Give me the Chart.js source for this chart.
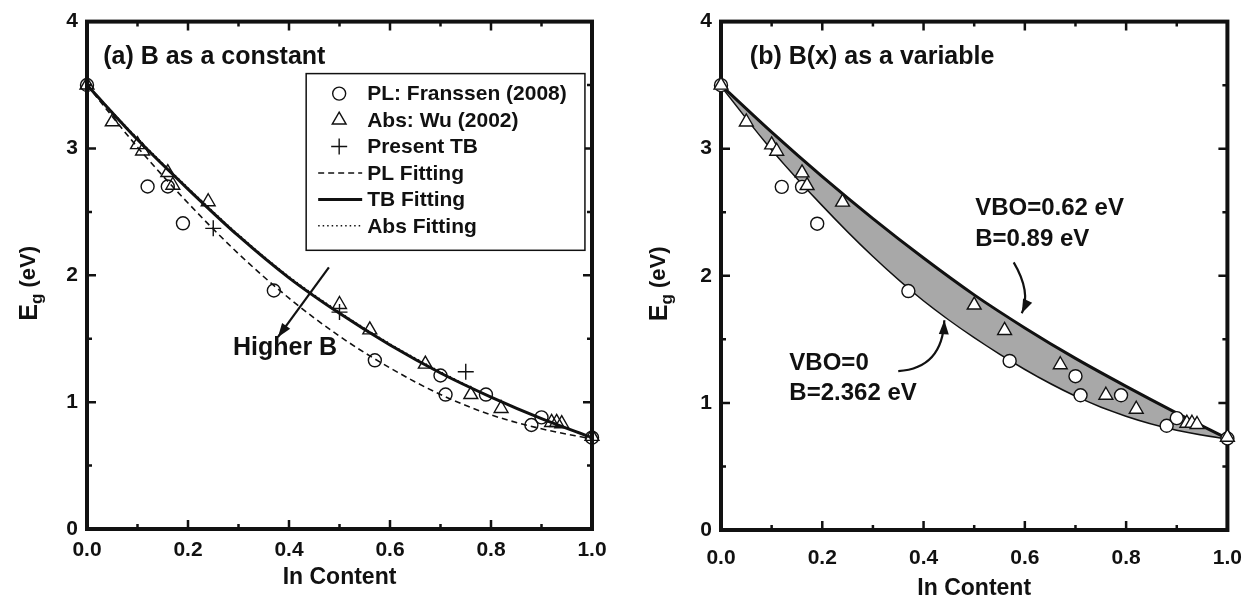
<!DOCTYPE html>
<html>
<head>
<meta charset="UTF-8">
<title>Eg vs In content</title>
<script src="https://cdn.jsdelivr.net/npm/chart.js"></script>
<style>
  body { margin: 0; background: #fff; }
  .panel { position: absolute; top: 0; width: 629px; height: 607px; }
</style>
</head>
<body>
<div class="panel" style="left:0"><canvas id="chartA"></canvas></div>
<div class="panel" style="left:629px"><canvas id="chartB"></canvas></div>

<script>
// ---- data ----
const inContent = [0, 0.1, 0.2, 0.3, 0.4, 0.5, 0.6, 0.7, 0.8, 0.9, 1.0];

// (a) fitted curves
const plFit  = [3.50, 3.01, 2.57, 2.17, 1.82, 1.52, 1.27, 1.06, 0.90, 0.79, 0.71];
const tbFit  = [3.50, 3.07, 2.68, 2.31, 1.98, 1.70, 1.45, 1.23, 1.04, 0.87, 0.72];
const absFit = [3.50, 3.08, 2.69, 2.32, 1.99, 1.71, 1.46, 1.24, 1.04, 0.87, 0.72];

// (b) band limits
const vboHigh = [3.50, 3.13, 2.78, 2.45, 2.14, 1.85, 1.59, 1.35, 1.13, 0.92, 0.72]; // VBO=0.62, B=0.89
const vboZero = [3.50, 3.00, 2.56, 2.16, 1.81, 1.52, 1.27, 1.06, 0.90, 0.79, 0.72]; // VBO=0, B=2.362

// measurements
const plX  = [0.00, 0.12, 0.16, 0.19, 0.37, 0.57, 0.70, 0.71, 0.79, 0.88, 0.90, 1.00];
const plY  = [3.50, 2.70, 2.70, 2.41, 1.88, 1.33, 1.21, 1.06, 1.06, 0.82, 0.88, 0.72];
const absX = [0.00, 0.05, 0.10, 0.11, 0.16, 0.17, 0.24, 0.50, 0.56, 0.67, 0.76, 0.82, 0.92, 0.93, 0.94, 1.00];
const absY = [3.50, 3.21, 3.03, 2.98, 2.81, 2.71, 2.58, 1.77, 1.57, 1.30, 1.06, 0.95, 0.84, 0.84, 0.83, 0.73];
const tbX  = [0.25, 0.50, 0.75];
const tbY  = [2.37, 1.71, 1.24];

const xTicks = [0, 0.2, 0.4, 0.6, 0.8, 1.0];
const yTicks = [0, 1, 2, 3, 4];

// ---- helpers ----
const FONT = '"Liberation Sans", Arial, Helvetica, sans-serif';
const INK = '#111';
const pts = (xs, ys) => xs.map((x, i) => ({ x: x, y: ys[i] }));

function curve(label, ys, extra) {
  return Object.assign({
    type: 'line', label: label, data: pts(inContent, ys),
    borderColor: INK, borderWidth: 3, pointRadius: 0,
    cubicInterpolationMode: 'monotone', fill: false, order: 3
  }, extra);
}
function marks(label, xs, ys, style, radius, bg) {
  return {
    type: 'scatter', label: label, data: pts(xs, ys),
    pointStyle: style, pointRadius: radius, pointHoverRadius: radius,
    pointBorderWidth: 1.4, pointBorderColor: INK,
    pointBackgroundColor: bg, clip: false, order: 1
  };
}

function scales(xPad, yWidth, xHeight) {
  return {
    x: {
      type: 'linear', min: 0, max: 1,
      afterBuildTicks: s => { s.ticks = xTicks.map(v => ({ value: v })); },
      afterFit: s => { s.height = xHeight; },
      ticks: { color: INK, font: { family: FONT, size: 21, weight: 'bold' }, padding: xPad,
               autoSkip: false, maxRotation: 0, callback: v => v.toFixed(1) },
      grid: { display: false, drawTicks: false }, border: { display: false }
    },
    y: {
      type: 'linear', min: 0, max: 4,
      afterBuildTicks: s => { s.ticks = yTicks.map(v => ({ value: v })); },
      afterFit: s => { s.width = yWidth; },
      ticks: { color: INK, font: { family: FONT, size: 21, weight: 'bold' }, padding: 9 },
      grid: { display: false, drawTicks: false }, border: { display: false }
    }
  };
}

// frame with inward ticks on all four sides
const framePlugin = {
  id: 'frame',
  beforeDatasetsDraw(chart) {
    const { ctx, chartArea: a, scales: { x, y } } = chart;
    ctx.save();
    ctx.strokeStyle = INK;
    ctx.lineWidth = 2.5;
    for (let i = 0; i <= 10; i++) {
      const px = x.getPixelForValue(i / 10), len = i % 2 ? 5 : 9;
      ctx.beginPath();
      ctx.moveTo(px, a.bottom); ctx.lineTo(px, a.bottom - len);
      ctx.moveTo(px, a.top); ctx.lineTo(px, a.top + len);
      ctx.stroke();
    }
    for (let i = 0; i <= 8; i++) {
      const py = y.getPixelForValue(i / 2), len = i % 2 ? 5 : 9;
      ctx.beginPath();
      ctx.moveTo(a.left, py); ctx.lineTo(a.left + len, py);
      ctx.moveTo(a.right, py); ctx.lineTo(a.right - len, py);
      ctx.stroke();
    }
    ctx.lineWidth = 4;
    ctx.lineJoin = 'miter';
    ctx.strokeRect(a.left, a.top, a.right - a.left, a.bottom - a.top);
    ctx.restore();
  }
};

function axisTitles(chart, xTitleY, yTitleX) {
  const { ctx, chartArea: a } = chart;
  ctx.save();
  ctx.fillStyle = INK;
  ctx.textBaseline = 'middle';
  ctx.textAlign = 'center';
  ctx.font = 'bold 23px ' + FONT;
  ctx.fillText('In Content', (a.left + a.right) / 2, xTitleY);
  // E_g (eV), rotated
  ctx.translate(yTitleX, (a.top + a.bottom) / 2 + 8);
  ctx.rotate(-Math.PI / 2);
  ctx.textAlign = 'left';
  ctx.font = 'bold 25px ' + FONT;
  const wE = ctx.measureText('E').width;
  ctx.font = 'bold 17px ' + FONT;
  const wg = ctx.measureText('g').width;
  ctx.font = 'bold 22px ' + FONT;
  const wr = ctx.measureText(' (eV)').width;
  let x0 = -(wE + wg + wr) / 2;
  ctx.font = 'bold 25px ' + FONT;
  ctx.fillText('E', x0, 0);
  ctx.font = 'bold 17px ' + FONT;
  ctx.fillText('g', x0 + wE, 7);
  ctx.font = 'bold 22px ' + FONT;
  ctx.fillText(' (eV)', x0 + wE + wg, -1);
  ctx.restore();
}

function label(chart, text, xv, yv, size) {
  const { ctx, scales: { x, y } } = chart;
  ctx.save();
  ctx.fillStyle = INK;
  ctx.font = 'bold ' + size + 'px ' + FONT;
  ctx.textBaseline = 'middle';
  ctx.textAlign = 'left';
  ctx.fillText(text, x.getPixelForValue(xv), y.getPixelForValue(yv));
  ctx.restore();
}

function arrowHead(ctx, tip, from) {
  const ang = Math.atan2(tip.y - from.y, tip.x - from.x);
  const L = 14, W = 5;
  ctx.beginPath();
  ctx.moveTo(tip.x, tip.y);
  ctx.lineTo(tip.x - L * Math.cos(ang) + W * Math.sin(ang), tip.y - L * Math.sin(ang) - W * Math.cos(ang));
  ctx.lineTo(tip.x - L * Math.cos(ang) - W * Math.sin(ang), tip.y - L * Math.sin(ang) + W * Math.cos(ang));
  ctx.closePath();
  ctx.fill();
}

function arrow(chart, p0, c, p1) {
  const { ctx, scales: { x, y } } = chart;
  const P = p => ({ x: x.getPixelForValue(p[0]), y: y.getPixelForValue(p[1]) });
  const a = P(p0), b = P(p1), k = c ? P(c) : a;
  ctx.save();
  ctx.strokeStyle = INK; ctx.fillStyle = INK; ctx.lineWidth = 2.2;
  ctx.beginPath();
  ctx.moveTo(a.x, a.y);
  if (c) ctx.quadraticCurveTo(k.x, k.y, b.x, b.y); else ctx.lineTo(b.x, b.y);
  ctx.stroke();
  arrowHead(ctx, b, k);
  ctx.restore();
}

// ---- panel (a) ----
const chartA = new Chart(document.getElementById('chartA'), {
  data: {
    datasets: [
      marks('PL: Franssen (2008)', plX, plY, 'circle', 6.5, 'rgba(0,0,0,0)'),
      marks('Abs: Wu (2002)', absX, absY, 'triangle', 8, 'rgba(0,0,0,0)'),
      marks('Present TB', tbX, tbY, 'cross', 8, 'rgba(0,0,0,0)'),
      curve('PL Fitting', plFit, { borderWidth: 1.6, borderDash: [6, 4] }),
      curve('TB Fitting', tbFit, { borderWidth: 3, order: 2 }),
      curve('Abs Fitting', absFit, { borderWidth: 1.5, borderDash: [1.5, 3], order: 4 })
    ]
  },
  options: {
    responsive: true, maintainAspectRatio: false, animation: false,
    layout: { padding: { top: 21, right: 37, left: 0, bottom: 0 } },
    plugins: { legend: { display: false }, tooltip: { enabled: false } },
    scales: scales(9, 87, 78)
  },
  plugins: [framePlugin, {
    id: 'decorA',
    afterDraw(chart) {
      const { ctx, scales: { x, y } } = chart;
      axisTitles(chart, 578, 30);
      label(chart, '(a) B as a constant', 0.032, 3.72, 25);
      arrow(chart, [0.479, 2.063], null, [0.378, 1.512]);
      label(chart, 'Higher B', 0.289, 1.425, 25);

      // legend box
      const bx0 = x.getPixelForValue(0.434), bx1 = x.getPixelForValue(0.986);
      const by0 = y.getPixelForValue(3.59), by1 = y.getPixelForValue(2.197);
      ctx.save();
      ctx.strokeStyle = INK; ctx.lineWidth = 1.5;
      ctx.fillStyle = '#fff';
      ctx.fillRect(bx0, by0, bx1 - bx0, by1 - by0);
      ctx.strokeRect(bx0, by0, bx1 - bx0, by1 - by0);
      ctx.font = 'bold 21px ' + FONT;
      ctx.textBaseline = 'middle';
      const rowH = (by1 - by0 - 18) / 6;
      chart.data.datasets.forEach((ds, i) => {
        const cy = by0 + 20 + i * rowH;
        ctx.strokeStyle = INK; ctx.fillStyle = 'rgba(0,0,0,0)';
        if (ds.type === 'scatter') {
          ctx.lineWidth = 1.4;
          Chart.helpers.drawPoint(ctx, { pointStyle: ds.pointStyle, radius: ds.pointRadius, rotation: 0, borderWidth: 1.4 }, bx0 + 33, cy);
        } else {
          ctx.lineWidth = ds.borderWidth;
          ctx.setLineDash(ds.borderDash || []);
          ctx.beginPath(); ctx.moveTo(bx0 + 12, cy); ctx.lineTo(bx0 + 56, cy); ctx.stroke();
          ctx.setLineDash([]);
        }
        ctx.fillStyle = INK;
        ctx.fillText(ds.label, bx0 + 61, cy + 1);
      });
      ctx.restore();
    }
  }]
});

// ---- panel (b) ----
const chartB = new Chart(document.getElementById('chartB'), {
  data: {
    datasets: [
      curve('VBO=0, B=2.362 eV', vboZero, { order: 3 }),
      curve('VBO=0.62 eV, B=0.89 eV', vboHigh, { order: 2, fill: '-1', backgroundColor: '#a8a8a8' }),
      marks('Abs: Wu (2002)', absX, absY, 'triangle', 8, '#fff'),
      marks('PL: Franssen (2008)', plX, plY, 'circle', 6.5, '#fff')
    ]
  },
  options: {
    responsive: true, maintainAspectRatio: false, animation: false,
    layout: { padding: { top: 20, right: 25, left: 0, bottom: 0 } },
    plugins: { legend: { display: false }, tooltip: { enabled: false } },
    scales: scales(16, 92, 77)
  },
  plugins: [framePlugin, {
    id: 'decorB',
    afterDraw(chart) {
      axisTitles(chart, 589, 31);
      label(chart, '(b) B(x) as a variable', 0.057, 3.72, 25);
      label(chart, 'VBO=0.62 eV', 0.502, 2.53, 24);
      label(chart, 'B=0.89 eV', 0.502, 2.29, 24);
      label(chart, 'VBO=0', 0.135, 1.31, 24);
      label(chart, 'B=2.362 eV', 0.135, 1.077, 24);
      arrow(chart, [0.578, 2.106], [0.613, 1.87], [0.594, 1.705]);
      arrow(chart, [0.350, 1.25], [0.4375, 1.273], [0.441, 1.65]);
    }
  }]
});
</script>
</body>
</html>
